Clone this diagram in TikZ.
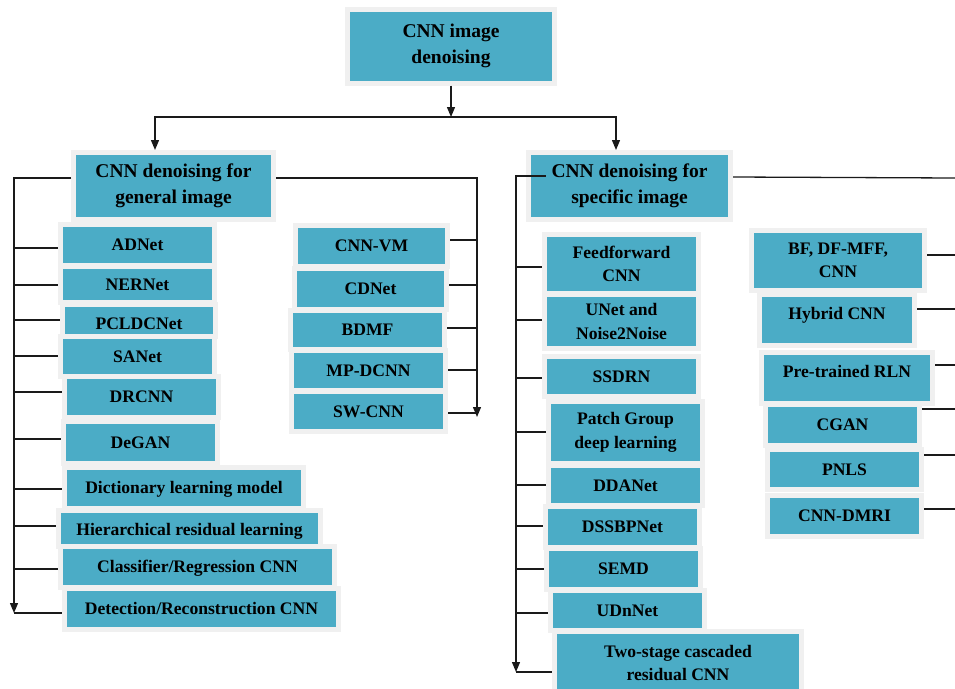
\documentclass[tikz,border=0pt]{standalone}
\usepackage{fontspec}
\setmainfont{Liberation Serif}
\usetikzlibrary{arrows.meta}
\definecolor{tealfill}{HTML}{4BACC6}
\definecolor{rim}{HTML}{F0F0F0}
\definecolor{ink}{HTML}{1A1A1A}
\tikzset{
 box/.style={rectangle, fill=tealfill, draw=rim, line width=5pt, inner sep=0pt,
   font=\fontsize{17.6}{23}\selectfont\bfseries, text=black, text height=15pt, text depth=3.3pt},
 boxtwo/.style={rectangle, fill=tealfill, draw=rim, line width=5pt, inner sep=0pt, align=center,
   font=\fontsize{17.6}{23.5}\selectfont\bfseries, text=black},
 head/.style={boxtwo, font=\fontsize{19.5}{26}\selectfont\bfseries},
 wh/.style 2 args={minimum width=#1pt+5pt, minimum height=#2pt+5pt},
 ln/.style={draw=ink, line width=1.3pt},
 arr/.style={ln, -{Triangle[length=10pt,width=8pt]}},
}
\begin{document}
\begin{tikzpicture}[x=1pt,y=-1pt]
\useasboundingbox (0,0) rectangle (955,688);

% headers
\node[head, wh={202}{69}] (root) at (451,46) {CNN image\\denoising};
\node[head, wh={195}{62}] (gen) at (173.5,186) {CNN denoising for\\general image};
\node[head, wh={197}{62}] (spec) at (629.5,186) {CNN denoising for\\specific image};

% general, left column
\node[box, wh={149}{36}] (adnet) at (137.5,245) {ADNet};
\node[box, wh={149}{31}] (nernet) at (137.5,284.5) {NERNet};
\node[box, wh={148}{27}, text height=22pt] (pcld) at (139,320.5) {PCLDCNet};
\node[box, wh={149}{35}] (sanet) at (137.5,356.5) {SANet};
\node[box, wh={149}{36}] (drcnn) at (141.5,397) {DRCNN};
\node[box, wh={149}{37}] (degan) at (140.5,442.5) {DeGAN};
\node[box, wh={234}{36}] (dict) at (184,488) {Dictionary learning model};
\node[box, wh={257}{31}, text height=18pt] (hier) at (189.5,528.5) {Hierarchical residual learning};
\node[box, wh={269}{36}] (clas) at (197.5,567) {Classifier/Regression CNN};
\node[box, wh={269}{36}] (det) at (201.5,609) {Detection/Reconstruction CNN};

% general, right column
\node[box, wh={147}{36}] (cnnvm) at (371.5,246) {CNN-VM};
\node[box, wh={147}{36}] (cdnet) at (370.5,289) {CDNet};
\node[box, wh={149}{34}] (bdmf) at (367.5,330) {BDMF};
\node[box, wh={149}{35}] (mpd) at (368.5,370.5) {MP-DCNN};
\node[box, wh={149}{35}] (swcnn) at (368.5,411.5) {SW-CNN};

% specific, left column
\node[boxtwo, wh={149}{54}] (ff) at (621.5,264) {Feedforward\\CNN};
\node[boxtwo, wh={149}{49}] (unet) at (621.5,321.5) {UNet and\\Noise2Noise};
\node[box, wh={149}{35}] (ssdrn) at (621.5,376.5) {SSDRN};
\node[boxtwo, wh={149}{57}] (patch) at (625.5,432.5) {Patch Group\\deep learning};
\node[box, wh={149}{35}] (dda) at (625.5,485.5) {DDANet};
\node[box, wh={149}{36}] (dssbp) at (622.5,527) {DSSBPNet};
\node[box, wh={149}{36}] (semd) at (623.5,569) {SEMD};
\node[box, wh={149}{35}] (udn) at (627.5,610.5) {UDnNet};
\node[boxtwo, wh={242}{58}] (two) at (678,663) {Two-stage cascaded\\residual CNN};

% specific, right column
\node[boxtwo, wh={168}{55}] (bf) at (838,260.5) {BF, DF-MFF,\\CNN};
\node[box, wh={150}{46}, text depth=15.3pt] (hyb) at (837,320) {Hybrid CNN};
\node[box, wh={166}{46}, text depth=15.3pt] (pre) at (847,378) {Pre-trained RLN};
\node[box, wh={149}{36}] (cgan) at (842.5,425) {CGAN};
\node[box, wh={149}{35}] (pnls) at (844.5,469.5) {PNLS};
\node[box, wh={149}{36}] (dmri) at (844.5,516) {CNN-DMRI};

% trunk coordinates
\coordinate (split) at (451,117);
\coordinate (gL) at (14,613);
\coordinate (gR) at (477,417);
\coordinate (sL) at (516,672);
\coordinate (sR) at (955,178);

% top connectors
\draw[arr] (root.south) -- (split);
\draw[arr] (split) -| ([xshift=-18.5]gen.north);
\draw[arr] (split) -| ([xshift=-13.5]spec.north);

% general left
\draw[arr] (gen.west |- 0,178) -| (gL);
\foreach \n/\y in {adnet/248, nernet/285, pcld/320, sanet/356, drcnn/392, degan/439, dict/489, hier/526, clas/569, det/613}
  \draw[ln] (gL |- 0,\y) -- (\n.west |- 0,\y);

% general right
\draw[arr] (gen.east |- 0,178) -| (gR);
\foreach \n/\y in {cnnvm/240, cdnet/285, bdmf/328, mpd/370, swcnn/413}
  \draw[ln] (\n.east |- 0,\y) -- (gR |- 0,\y);

% specific left
\draw[arr] ([xshift=19.5]spec.west |- 0,176) -| (sL);
\foreach \n/\y in {ff/267, unet/320, ssdrn/378, patch/432, dda/485, dssbp/526, semd/569, udn/613, two/672}
  \draw[ln] (sL |- 0,\y) -- (\n.west |- 0,\y);

% specific right
\draw[ln] (spec.east |- 0,177) -- (sR);
\foreach \n/\y in {bf/255, hyb/309, pre/365, cgan/409, pnls/455, dmri/509}
  \draw[ln] (\n.east |- 0,\y) -- (sR |- 0,\y);
\end{tikzpicture}
\end{document}
